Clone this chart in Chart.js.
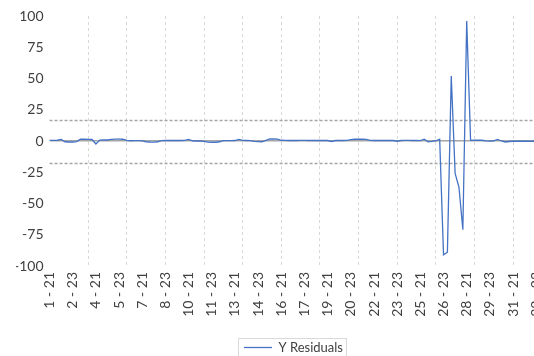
<!DOCTYPE html>
<html>
<head>
<meta charset="utf-8">
<script src="https://cdn.jsdelivr.net/npm/chart.js@4/dist/chart.umd.min.js"></script>
<style>
html, body { margin:0; padding:0; background:#fff; overflow:hidden; }
#wrap { width:534px; height:356px; overflow:hidden; position:relative; }
#box { width:594px; height:364px; position:absolute; left:0; top:0; }
</style>
</head>
<body>
<div id="wrap"><div id="box"><canvas id="mycanvas"></canvas></div></div>
<script>
// category parts : day - hour
var days = [];
for (var d = 1; d <= 34; d++) days.push(d);
var hours = [21, 22, 23, 24];

var residuals = [
 0.5, 0.5, 0.6, 1.3, -0.6, -0.8, -0.8, -0.5, 1.4, 1.5,
 1.3, 1.2, -2.4, 0.7, 0.8, 0.8, 1.3, 1.5, 1.5, 1.4,
 0.5, 0.2, 0.3, 0.3, 0.1, -0.6, -0.8, -0.9, -0.6, 0.3,
 0.4, 0.4, 0.4, 0.4, 0.4, 0.5, 1.3, 0.2, 0, 0,
 -0.3, -0.9, -1, -1, -0.6, 0.3, 0.3, 0.3, 0.4, 1.3,
 0.5, 0.4, 0.3, -0.3, -0.5, -0.6, 0.5, 1.6, 1.6, 1.5,
 0.6, 0.5, 0.4, 0.5, 0.4, 0.5, 0.5, 0.4, 0.5, 0.4,
 0.5, 0.4, 0.4, -0.4, 0.4, 0.5, 0.4, 0.5, 1.1, 1.4,
 1.4, 1.4, 1.3, 0.5, 0.4, 0.5, 0.4, 0.4, 0.5, 0.4,
 -0.2, 0.4, 0.5, 0.5, 0.4, 0.5, 0.3, 1.4, -0.7, -0.3,
 0.2, 1.5, -91, -89, 52, -26, -37, -71, 96, 0.5,
 0.6, 0.7, 0.6, 0.1, -0.1, 0.2, 1.3, 0, -0.8, -0.4,
 -0.2, -0.1, -0.2, -0.2, -0.1, -0.2, -0.2, -0.1, -0.2, -0.2,
 -0.1, -0.2, -0.2, -0.1, -0.2, -0.2
];

// control limits (dashed lines)
var limits = [16.6, -17.3];
var yTicks = [-100, -75, -50, -25, 0, 25, 50, 75, 100];

var labels = [];
for (var i = 0; i < days.length; i++) {
  for (var j = 0; j < hours.length; j++) {
    labels.push(days[i] + ' - ' + hours[j]);
  }
}
labels = labels.slice(0, residuals.length);

var font = { family: 'Lato, "Open Sans", sans-serif', size: 14 };

// dashed limit lines, drawn with the y scale
var limitLines = {
  id: 'limitLines',
  beforeDatasetsDraw: function(chart) {
    var ctx = chart.ctx, a = chart.chartArea, y = chart.scales.y;
    ctx.save();
    ctx.strokeStyle = '#a6a6a6';
    ctx.lineWidth = 1.5;
    ctx.setLineDash([3, 2]);
    for (var k = 0; k < limits.length; k++) {
      var py = Math.round(y.getPixelForValue(limits[k])) + 0.5;
      ctx.beginPath();
      ctx.moveTo(a.left, py);
      ctx.lineTo(a.right, py);
      ctx.stroke();
    }
    ctx.restore();
  }
};

// border round the legend
var legendBox = {
  id: 'legendBox',
  afterDraw: function(chart) {
    var hb = chart.legend.legendHitBoxes[0];
    if (!hb) return;
    var ctx = chart.ctx;
    ctx.save();
    ctx.strokeStyle = '#d9d9d9';
    ctx.lineWidth = 1;
    ctx.strokeRect(Math.round(hb.left) - 5.5, Math.round(hb.top) - 2.5, hb.width + 9, hb.height + 30);
    ctx.restore();
  }
};

var chartdata = {
  labels: labels,
  datasets: [{
    label: 'Y Residuals',
    data: residuals,
    borderColor: '#4472C4',
    backgroundColor: '#4472C4',
    borderWidth: 1.3,
    pointRadius: 0,
    tension: 0,
    fill: false
  }]
};

var ctx = document.getElementById('mycanvas');
var graph = new Chart(ctx, {
  type: 'line',
  data: chartdata,
  plugins: [limitLines, legendBox],
  options: {
    responsive: true,
    maintainAspectRatio: false,
    animation: false,
    layout: { padding: { left: 16, right: 23, top: 16, bottom: 0 } },
    plugins: {
      tooltip: { enabled: false },
      legend: {
        position: 'bottom',
        labels: {
          usePointStyle: true,
          pointStyle: 'line',
          pointStyleWidth: 28,
          boxWidth: 28,
          padding: 10,
          color: '#404040',
          font: { family: font.family, size: 13 }
        }
      }
    },
    scales: {
      x: {
        offset: false,
        border: { display: false, dash: [3, 3] },
        grid: {
          drawTicks: false,
          lineWidth: 1,
          color: function(c) { return (c.index % 10 === 0 && c.index > 0) ? '#d9d9d9' : 'rgba(0,0,0,0)'; }
        },
        ticks: {
          autoSkip: false,
          maxRotation: 90,
          minRotation: 90,
          padding: 6,
          color: '#404040',
          font: font,
          callback: function(v, i) { return i % 6 === 0 ? labels[i] : ''; }
        },
        afterFit: function(s) { s.height = 65; s.paddingRight = 0; s.paddingLeft = 0; }
      },
      y: {
        min: -100,
        max: 100,
        border: { display: false },
        grid: {
          drawTicks: false,
          lineWidth: 1.5,
          color: function(c) { return c.tick && c.tick.value === 0 ? '#a6a6a6' : 'rgba(0,0,0,0)'; }
        },
        afterBuildTicks: function(s) { s.ticks = yTicks.map(function(v) { return { value: v }; }); },
        afterFit: function(s) { s.width = s.width - 8; },
        ticks: {
          padding: 6,
          color: '#404040',
          font: font
        }
      }
    }
  }
});
</script>
</body>
</html>
